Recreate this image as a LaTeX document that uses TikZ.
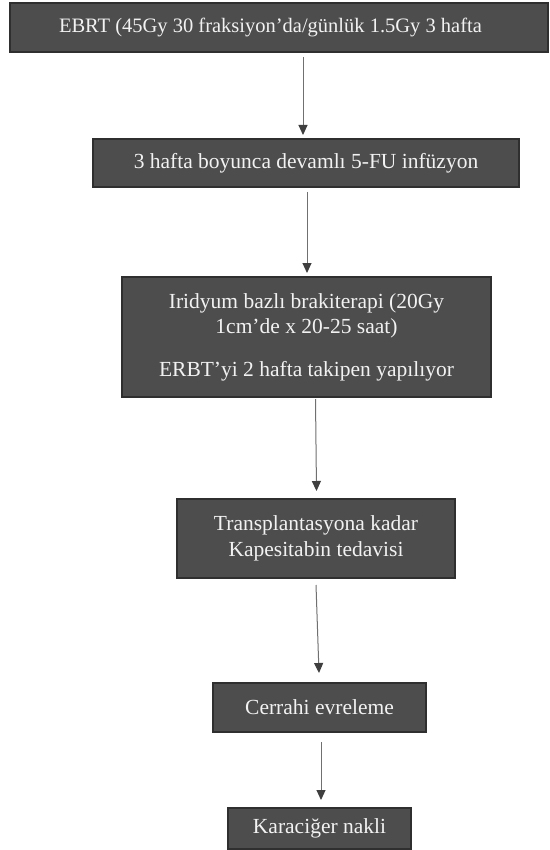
\documentclass[tikz,border=0pt]{standalone}
\usepackage{fontspec}
\setmainfont{Liberation Serif}
\usetikzlibrary{arrows.meta}
\definecolor{boxfill}{HTML}{4D4D4D}
\definecolor{boxline}{HTML}{2F2F2F}
\definecolor{arrline}{HTML}{707070}
\definecolor{arrhead}{HTML}{3F3F3F}
\definecolor{txt}{HTML}{F2F2F2}
\begin{document}
\begin{tikzpicture}[x=1pt,y=1pt,
  box/.style={rectangle, draw=boxline, line width=1.5pt, fill=boxfill, text=txt,
    font=\fontsize{21.5}{25.5}\selectfont, align=center, inner sep=0pt, outer sep=0pt},
  arr/.style={draw=arrline, line width=1pt,
    -{Triangle[width=9pt,length=10pt,fill=arrhead,color=arrhead]}}]
\useasboundingbox (0,0) rectangle (549,-850);
\fill[white] (0,0) rectangle (549,-850);
\node[box, minimum width=538, minimum height=49, font=\fontsize{20.5}{25}\selectfont] (b1) at (279,-27.5)
  {\raisebox{2.5pt}{EBRT (45Gy 30 fraksiyon’da/günlük 1.5Gy 3 hafta}\hspace*{17pt}};
\node[box, minimum width=426, minimum height=48] (b2) at (306,-163)
  {3 hafta boyunca devamlı 5-FU infüzyon};
\node[box, minimum width=369, minimum height=120] (b3) at (306.5,-337)
  {Iridyum bazlı brakiterapi (20Gy\\1cm’de x 20-25 saat)\\[17pt]ERBT’yi 2 hafta takipen yapılıyor};
\node[box, minimum width=278, minimum height=79] (b4) at (316,-538.5)
  {Transplantasyona kadar\\Kapesitabin tedavisi};
\node[box, minimum width=213, minimum height=49] (b5) at (319.5,-707.5)
  {Cerrahi evreleme};
\node[box, minimum width=183, minimum height=41] (b6) at (319.5,-828.5)
  {Karaciğer nakli};
\draw[arr] ([xshift=24pt,yshift=-5pt]b1.south) -- ([xshift=-3pt,yshift=4pt]b2.north);
\draw[arr] ([xshift=1pt,yshift=-5pt]b2.south) -- ([xshift=0.5pt,yshift=4pt]b3.north);
\draw[arr] ([xshift=9pt,yshift=-2pt]b3.south) -- ([xshift=0.5pt,yshift=8pt]b4.north);
\draw[arr] ([yshift=-7pt]b4.south) -- ([xshift=-0.5pt,yshift=10pt]b5.north);
\draw[arr] ([xshift=1.5pt,yshift=-10pt]b5.south) -- ([xshift=1.5pt,yshift=8pt]b6.north);
\end{tikzpicture}
\end{document}
